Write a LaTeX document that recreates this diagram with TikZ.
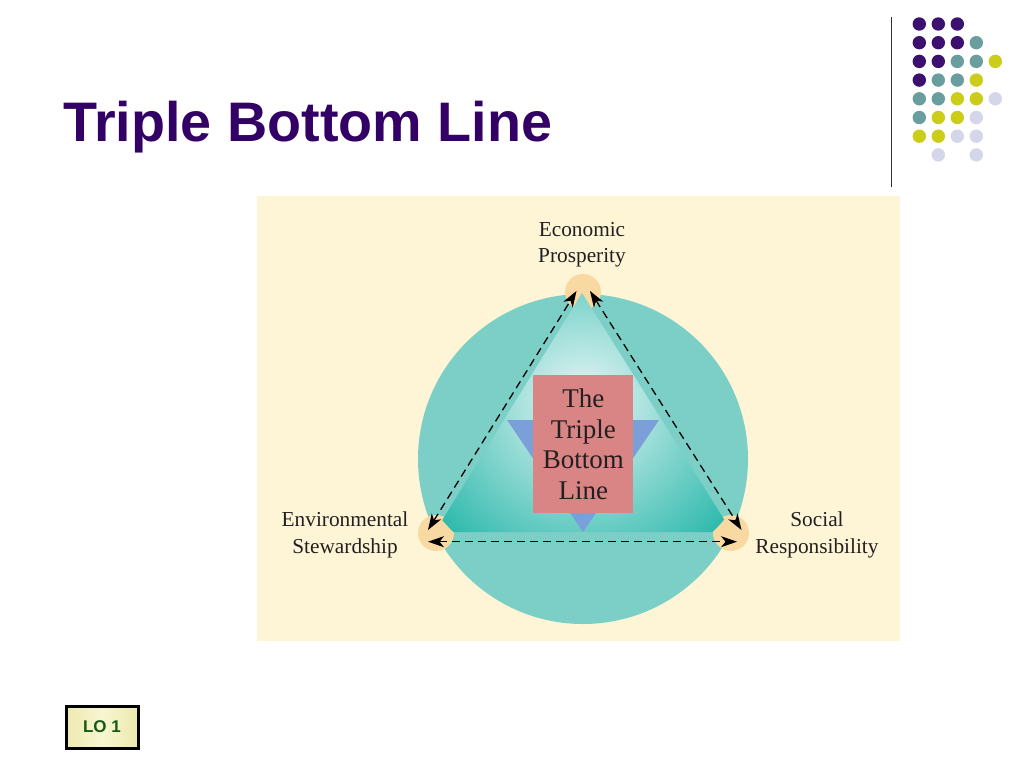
\documentclass[tikz,border=0pt]{standalone}
\usepackage{fontspec}
\setmainfont{Liberation Serif}
\newfontfamily\titlefont{Liberation Sans}
\usetikzlibrary{arrows.meta}
\definecolor{ttlpurple}{HTML}{330066}
\definecolor{dotP}{HTML}{3D0F6E}
\definecolor{dotT}{HTML}{6A9E9E}
\definecolor{dotY}{HTML}{CCCC1A}
\definecolor{dotL}{HTML}{D6D6EA}
\definecolor{panel}{HTML}{FDF5D6}
\definecolor{discteal}{HTML}{7CCFC7}
\definecolor{triteal}{HTML}{30BAAD}
\definecolor{trilight}{HTML}{E8F6F6}
\definecolor{orangedisk}{HTML}{F9D9A2}
\definecolor{bluetri}{HTML}{7B9FD9}
\definecolor{redbox}{HTML}{D98585}
\definecolor{labtext}{HTML}{231F20}
\definecolor{lofill}{HTML}{EDE9B0}
\definecolor{lofillB}{HTML}{F8F6D2}
\definecolor{logreen}{HTML}{145A14}
\def\skipmark{N}
\tikzset{
  dotstyle/.style={circle,inner sep=0pt,minimum size=13.4pt},
  vdisk/.style={circle,fill=orangedisk,inner sep=0pt,minimum size=36pt},
  lab/.style={align=center,text=labtext,font=\fontsize{21.3}{26.5}\selectfont},
  link/.style={dashed,dash pattern=on 8pt off 5pt,line width=1.3pt,black,
     {Stealth[length=16pt,width=11pt,inset=4.5pt]}-{Stealth[length=16pt,width=11pt,inset=4.5pt]}},
}
\begin{document}
\begin{tikzpicture}[x=1pt,y=-1pt]
\useasboundingbox (0,0) rectangle (1024,768);
\fill[white] (0,0) rectangle (1024,768);
% title
\node[anchor=base west,inner sep=0pt,text=ttlpurple,font=\titlefont\bfseries\fontsize{55.7}{60}\selectfont] (title) at (63,141.7) {Triple Bottom Line};
% vertical rule
\draw[line width=1.3pt,black!80] (891.7,17) -- (891.7,187);
% dot grid
\foreach \row/\cols [count=\r from 0] in {0/{P,P,P},1/{P,P,P,T},2/{P,P,T,T,Y},3/{P,T,T,Y},4/{T,T,Y,Y,L},5/{T,Y,Y,L},6/{Y,Y,L,L},7/{N,L,N,L}}{
  \foreach \c [count=\k from 0] in \cols {
    \ifx\c\skipmark\else
      \node[dotstyle,fill=dot\c] (dot\r\k) at ({919.3+19*\k},{24+18.7*\r}) {};
    \fi
  }
}
% panel
\fill[panel] (257,196) rectangle (900,641);
% big disc
\node[circle,fill=discteal,inner sep=0pt,minimum size=330pt] (disc) at (583,459) {};
% vertex discs
\node[vdisk] (econ) at (583,292) {};
\node[vdisk] (envi) at (436,533) {};
\node[vdisk] (soci) at (731,533) {};
% triangle with shading
\coordinate (tA) at (582,293);
\coordinate (tB) at (435,532);
\coordinate (tC) at (732,532);
\begin{scope}
\clip (tA) -- (tB) -- (tC) -- cycle;
\shade[inner color=trilight,outer color=triteal] (583,400) circle (185);
\end{scope}
% blue inverted triangle
\fill[bluetri] (507,420) -- (659,420) -- (583,532) -- cycle;
% red box
\node[fill=redbox,minimum width=100pt,minimum height=138pt,inner sep=0pt] (tbl) at (583.3,444.2) {};
\node[align=center,text=labtext,font=\fontsize{27}{30.5}\selectfont] (tbltext) at (tbl.center) {The\\Triple\\Bottom\\Line};
% arrows
\coordinate (a1) at (576.5,291);
\coordinate (a2) at (428,530);
\coordinate (b1) at (590,291);
\coordinate (b2) at (741.5,530);
\coordinate (c1) at (428,541.7);
\coordinate (c2) at (737,541.7);
\draw[link] (a2) -- (a1);
\draw[link] (b1) -- (b2);
\draw[link] (c1) -- (c2);
% labels
\node[lab] (econlab) at (582,244.5) {Economic\\Prosperity};
\node[lab] (envilab) at (345,535) {Environmental\\Stewardship};
\node[lab] (socilab) at (817,535) {Social\\Responsibility};
% LO box
\shade[left color=lofill,right color=lofill,middle color=lofillB] (66,706) rectangle (138,748);
\draw[line width=3pt,black] (66,706) rectangle (138,748);
\node[text=logreen,font=\titlefont\bfseries\fontsize{17}{20}\selectfont] (lo) at (102,727) {LO 1};
\end{tikzpicture}
\end{document}
